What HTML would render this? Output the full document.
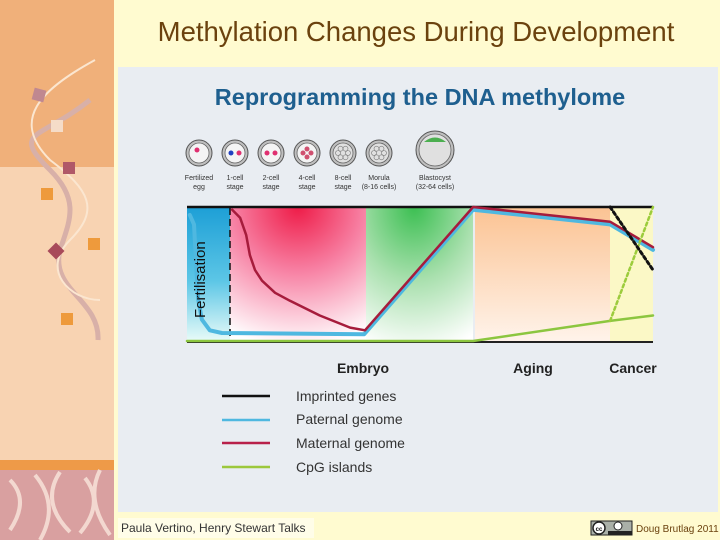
<!DOCTYPE html>
<html><head><meta charset="utf-8"><style>
body{margin:0;width:720px;height:540px;overflow:hidden;background:#fffbd0;font-family:"Liberation Sans",sans-serif;}
svg{display:block}
</style></head><body>
<svg width="720" height="540" viewBox="0 0 720 540">
<defs>
<linearGradient id="gBlue" x1="0" y1="0" x2="0" y2="1"><stop offset="0" stop-color="#1d9fd6"/><stop offset="0.55" stop-color="#5cc6e6"/><stop offset="1" stop-color="#e8fbf8"/></linearGradient>
<radialGradient id="gPink" cx="0.5" cy="0" r="1.05"><stop offset="0" stop-color="#ee1c48"/><stop offset="0.45" stop-color="#f77fa2"/><stop offset="1" stop-color="#ffffff"/></radialGradient>
<radialGradient id="gGreen" cx="0.45" cy="0" r="1.1"><stop offset="0" stop-color="#3cbf52"/><stop offset="0.5" stop-color="#a9e0ae"/><stop offset="1" stop-color="#ffffff"/></radialGradient>
<linearGradient id="gOrange" x1="0" y1="0" x2="0" y2="1"><stop offset="0" stop-color="#fbc393"/><stop offset="1" stop-color="#fff3ea"/></linearGradient>
</defs>
<g>
<rect x="0" y="0" width="114" height="167" fill="#f0b07a"/>
<rect x="0" y="167" width="114" height="293" fill="#f8d3b2"/>
<rect x="0" y="460" width="114" height="10" fill="#ee9a48"/>
<rect x="0" y="470" width="114" height="70" fill="#d9a0a0"/>
<path d="M10 480 q20 20 0 50 M35 475 q25 30 5 65 M60 472 q-20 30 10 60 M85 478 q20 25 -5 55 M100 470 q-15 30 10 65" stroke="#f3d8d0" stroke-width="4" fill="none"/>
<path d="M90 100 C40 140 10 130 50 170 C80 200 70 220 60 250 C50 290 100 300 98 340" stroke="#d8b0a8" stroke-width="5" fill="none"/>
<path d="M95 60 C40 90 10 120 50 160 C90 190 100 210 70 240 C40 270 70 300 100 300" stroke="#fbe6d0" stroke-width="2" fill="none"/>
<rect x="33" y="89" width="12" height="12" fill="#c08890" transform="rotate(15 39 95)"/>
<rect x="51" y="120" width="12" height="12" fill="#f5dcc8"/>
<rect x="63" y="162" width="12" height="12" fill="#b05868"/>
<rect x="41" y="188" width="12" height="12" fill="#ee9a3c"/>
<rect x="88" y="238" width="12" height="12" fill="#ee9a3c"/>
<rect x="50" y="245" width="12" height="12" fill="#a84a5a" transform="rotate(45 56 251)"/>
<rect x="61" y="313" width="12" height="12" fill="#ee9a3c"/>
</g>
<text x="416" y="41" text-anchor="middle" font-size="27.5" fill="#6b420e">Methylation Changes During Development</text>
<rect x="118" y="67" width="600" height="445" fill="#e9edf2"/>
<text x="420" y="105" text-anchor="middle" font-size="23.5" font-weight="bold" fill="#1e5f8f">Reprogramming the DNA methylome</text>
<g id="icons"></g>
<g id="chart">
<rect x="187" y="207" width="43" height="134" fill="url(#gBlue)"/>
<rect x="230" y="207" width="136" height="134" fill="url(#gPink)"/>
<rect x="366" y="207" width="107" height="134" fill="url(#gGreen)"/>
<rect x="475" y="207" width="135" height="134" fill="url(#gOrange)"/>
<rect x="610" y="207" width="43" height="134" fill="#fbf8c6"/>
<line x1="230" y1="208" x2="230" y2="341" stroke="#111" stroke-width="1.5" stroke-dasharray="7,4"/>
</g>
<text x="363" y="373" text-anchor="middle" font-size="14" font-weight="bold" fill="#222">Embryo</text>
<text x="533" y="373" text-anchor="middle" font-size="14" font-weight="bold" fill="#222">Aging</text>
<text x="633" y="373" text-anchor="middle" font-size="14" font-weight="bold" fill="#222">Cancer</text>
<g>
<line x1="222" y1="396" x2="270" y2="396" stroke="#111" stroke-width="2.5"/>
<text x="296" y="401" font-size="14" fill="#333">Imprinted genes</text>
<line x1="222" y1="420" x2="270" y2="420" stroke="#4fb8e0" stroke-width="2.5"/>
<text x="296" y="424" font-size="14" fill="#333">Paternal genome</text>
<line x1="222" y1="443" x2="270" y2="443" stroke="#b8204a" stroke-width="2.5"/>
<text x="296" y="448" font-size="14" fill="#333">Maternal genome</text>
<line x1="222" y1="467" x2="270" y2="467" stroke="#9cc83c" stroke-width="2.5"/>
<text x="296" y="472" font-size="14" fill="#333">CpG islands</text>
</g>
<rect x="118" y="518" width="196" height="20" fill="#fffde8"/>
<text x="121" y="532" font-size="12" fill="#333">Paula Vertino, Henry Stewart Talks</text>
<g>
<rect x="591" y="521" width="41" height="14" fill="#aab0a8" stroke="#222"/>
<circle cx="599" cy="528" r="6" fill="#fff" stroke="#222" stroke-width="1.5"/>
<text x="599" y="531" font-size="6" text-anchor="middle" font-weight="bold">cc</text>
<circle cx="618" cy="526" r="4" fill="#fff" stroke="#222"/>
<rect x="608" y="531" width="24" height="4" fill="#222"/>
</g>
<text x="636" y="532" font-size="10" fill="#6b420e">Doug Brutlag 2011</text>
</svg>
<script>
const stageLabels1=["Fertilized","1-cell","2-cell","4-cell","8-cell","Morula","Blastocyst"];
const stageLabels2=["egg","stage","stage","stage","stage","(8-16 cells)","(32-64 cells)"];
const paternalT=[0.6,1.5,1.9,2.4,3.2,4.9,7.5,38,61.4,90.8,100];
const paternalM=[0.94,0.87,0.6,0.31,0.16,0.08,0.06,0.05,0.98,0.87,0.68];
const maternalT=[9.7,11.4,12.7,13.5,14.6,16.1,18.9,22.1,28.5,35,38.2,61.4,90.8,100];
const maternalM=[0.98,0.92,0.79,0.64,0.53,0.45,0.36,0.30,0.19,0.10,0.08,1.0,0.89,0.7];
const cpgT=[0,61.4,90.8,100];
const cpgM=[0,0,0.15,0.19];
const cpgCancerT=[90.8,100];
const cpgCancerM=[0.15,1];
const imprintT=[90.8,100];
const imprintM=[1,0.53];
const NS="http://www.w3.org/2000/svg";
const xs=t=>187+t*4.66;
const ys=m=>341-m*134;
function mk(tag,attrs,parent){const e=document.createElementNS(NS,tag);for(const k in attrs)e.setAttribute(k,attrs[k]);parent.appendChild(e);return e;}
const chart=document.getElementById('chart');
function line(T,M,color,w,dash,name){
  const pts=T.map((t,i)=>xs(t).toFixed(1)+','+ys(M[i]).toFixed(1)).join(' ');
  const p=mk('polyline',{points:pts,fill:'none',stroke:color,'stroke-width':w,'stroke-linejoin':'round','stroke-linecap':'round'},chart);
  if(dash)p.setAttribute('stroke-dasharray',dash);
  
  
}
const top1=mk('line',{x1:187,y1:207,x2:653,y2:207,stroke:'#111','stroke-width':2.5},chart);


const bot=mk('line',{x1:187,y1:342,x2:653,y2:342,stroke:'#222','stroke-width':2},chart);


line(cpgT,cpgM,'#8cc63f',2.5,null,'cpg-islands-line');
line(paternalT,paternalM,'#4fb8e0',4,null,'paternal-genome-line');
line(maternalT,maternalM,'#a61c3c',2.5,null,'maternal-genome-line');
line(cpgCancerT,cpgCancerM,'#9ccc3c',2.5,'3,3','cpg-islands-cancer-line');
line(imprintT,imprintM,'#111',3,'3,3','imprinted-genes-cancer-line');
const fl=mk('text',{transform:'translate(205,318) rotate(-90)','font-size':15,fill:'#111'},chart);
fl.textContent='Fertilisation';


const icons=document.getElementById('icons');
const cxs=[199,235,271,307,343,379,435];
const innerColors=[["#e03070"],["#e03070","#2040c0"],["#e03070","#e03070"],["#d05070","#d05070","#d05070","#d05070"],[],[],[]];
stageLabels1.forEach((lab,i)=>{
  const g=mk('g',{},icons);
  
  
  const r=i===6?19:13;
  const cy=i===6?150:153;
  mk('circle',{cx:cxs[i],cy:cy,r:r,fill:'#bfbfbf',stroke:'#555','stroke-width':1},g);
  mk('circle',{cx:cxs[i],cy:cy,r:r-3,fill:i>=4?'#e0e0e0':'#f4f4f4',stroke:'#666','stroke-width':0.8},g);
  const c=innerColors[i];
  c.forEach((col,j)=>{
    const a=j*2*Math.PI/Math.max(c.length,1);
    const off=c.length>1?4:0;
    mk('circle',{cx:cxs[i]+off*Math.cos(a)-(c.length==1?2:0),cy:cy+off*Math.sin(a)-(c.length==1?3:0),r:2.5,fill:col},g);
  });
  if(i===4||i===5){for(let j=0;j<6;j++){const a=j*Math.PI/3;mk('circle',{cx:cxs[i]+5*Math.cos(a),cy:cy+5*Math.sin(a),r:2.5,fill:'none',stroke:'#777','stroke-width':0.6},g);}}
  if(i===6){mk('path',{d:`M${cxs[i]-11} ${cy-8} Q${cxs[i]} ${cy-17} ${cxs[i]+11} ${cy-8} Z`,fill:'#4caf50'},g);}
  const t1=mk('text',{x:cxs[i],y:180,'font-size':7,'text-anchor':'middle',fill:'#333'},g);t1.textContent=lab;
  const t2=mk('text',{x:cxs[i],y:189,'font-size':7,'text-anchor':'middle',fill:'#333'},g);t2.textContent=stageLabels2[i];
});
</script>
</body></html>
